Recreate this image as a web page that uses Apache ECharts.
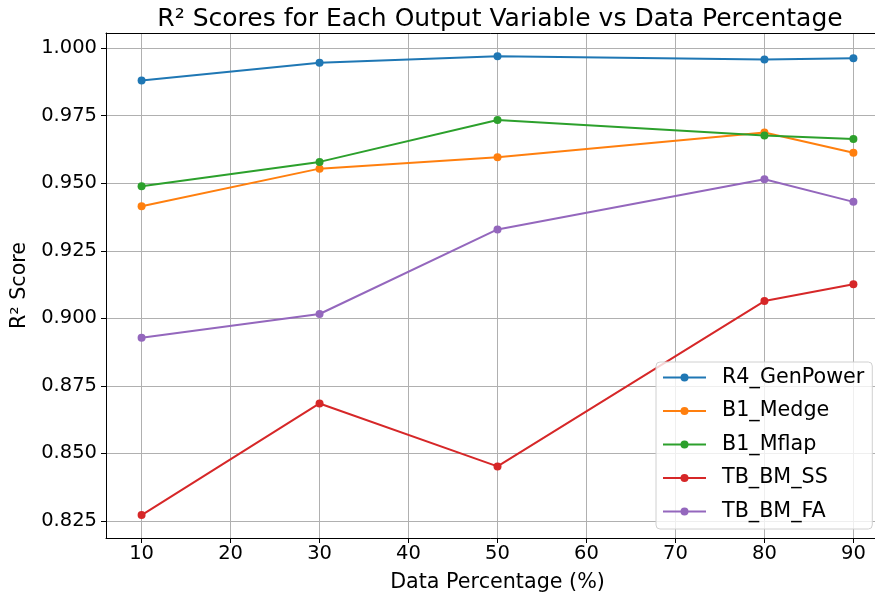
<!DOCTYPE html>
<html><head><meta charset="utf-8">
<script src="https://cdn.jsdelivr.net/npm/echarts@6/dist/echarts.min.js"></script>
<style>html,body{margin:0;padding:0;background:#fff}#c{width:875px;height:594px}</style>
</head><body><div id="c"></div>
<script>
const xValues = [10, 30, 50, 80, 90];
const seriesNames = ['R4_GenPower', 'B1_Medge', 'B1_Mflap', 'TB_BM_SS', 'TB_BM_FA'];
const r4GenPower = [0.9880, 0.9946, 0.9970, 0.9958, 0.9963];
const b1Medge   = [0.9415, 0.9554, 0.9596, 0.9688, 0.9613];
const b1Mflap   = [0.9489, 0.9579, 0.9734, 0.9677, 0.9664];
const tbBmSs    = [0.8272, 0.8685, 0.8452, 0.9064, 0.9126];
const tbBmFa    = [0.8928, 0.9016, 0.9329, 0.9515, 0.9431];
const xTicks = [10, 20, 30, 40, 50, 60, 70, 80, 90];
const yTicks = [0.825, 0.850, 0.875, 0.900, 0.925, 0.950, 0.975, 1.000];
const colors = ['#1f77b4', '#ff7f0e', '#2ca02c', '#d62728', '#9467bd'];
const allSeries = [r4GenPower, b1Medge, b1Mflap, tbBmSs, tbBmFa];

const chart = echarts.init(document.getElementById('c'));
const font = 'DejaVu Sans';
chart.setOption({
  animation: false,
  title: {
    text: 'R² Scores for Each Output Variable vs Data Percentage',
    left: 495, top: 2, textAlign: 'center',
    textStyle: { fontFamily: font, fontSize: 25, fontWeight: 'normal', color: '#000' }
  },
  grid: { left: 106, top: 33, width: 783, height: 505, outerBoundsMode: 'none', containLabel: false },
  legend: {
    orient: 'vertical', left: 656, top: 362,
    data: seriesNames,
    itemWidth: 43, itemHeight: 10, itemGap: 12.5,
    padding: [5, 8, 7, 6],
    backgroundColor: 'rgba(255,255,255,0.8)',
    borderColor: '#d0d0d0', borderWidth: 1, borderRadius: 4,
    textStyle: { fontFamily: font, fontSize: 20.7, color: '#000', padding: [0, 0, 0, 11] }
  },
  xAxis: [{
    type: 'value', min: 6, max: 94, position: 'bottom',
    name: 'Data Percentage (%)', nameLocation: 'middle', nameGap: 34,
    nameTextStyle: { fontFamily: font, fontSize: 20.7, color: '#000' },
    axisLine: { show: true, onZero: false, lineStyle: { color: '#000', width: 1 } },
    axisTick: { show: true, customValues: xTicks, length: 5, lineStyle: { color: '#000' } },
    axisLabel: { customValues: xTicks, fontFamily: font, fontSize: 19.5, color: '#000', margin: 6 },
    splitLine: { show: true, lineStyle: { color: '#b0b0b0', width: 1 } }
  }, {
    type: 'value', min: 6, max: 94, position: 'top',
    axisLine: { show: true, onZero: false, lineStyle: { color: '#000', width: 1 } },
    axisTick: { show: false }, axisLabel: { show: false }, splitLine: { show: false }
  }],
  yAxis: {
    type: 'value', min: 0.8187, max: 1.0056,
    name: 'R² Score', nameLocation: 'middle', nameGap: 74,
    nameTextStyle: { fontFamily: font, fontSize: 20.7, color: '#000' },
    axisLine: { show: true, onZero: false, lineStyle: { color: '#000', width: 1 } },
    axisTick: { show: true, customValues: yTicks, length: 5, lineStyle: { color: '#000' } },
    axisLabel: { customValues: yTicks, fontFamily: font, fontSize: 19.5, color: '#000', margin: 9,
      formatter: v => v.toFixed(3) },
    splitLine: { show: true, lineStyle: { color: '#b0b0b0', width: 1 } }
  },
  series: seriesNames.map((name, i) => ({
    name, type: 'line', xAxisIndex: 0,
    data: xValues.map((x, j) => [x, allSeries[i][j]]),
    symbol: 'circle', symbolSize: 8,
    lineStyle: { color: colors[i], width: 2 },
    itemStyle: { color: colors[i] },
    color: colors[i]
  }))
});
</script></body></html>
